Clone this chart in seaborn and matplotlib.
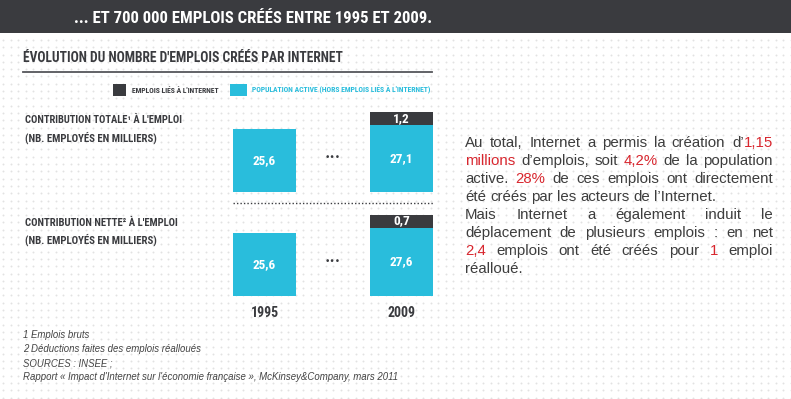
import numpy as np
import pandas as pd
import matplotlib
matplotlib.use("Agg")
import matplotlib.pyplot as plt
import seaborn as sns
from matplotlib import font_manager
from matplotlib.patches import Rectangle
from matplotlib.lines import Line2D

# ---------------- data ----------------
years = ["1995", "2009"]
spacer = " "
total_base = [25.6, 27.1]          # population active (hors emplois liés à l'internet)
total_internet = [None, 1.2]       # emplois liés à l'internet
net_base = [25.6, 27.6]
net_internet = [None, 0.7]

header_text = "... ET 700 000 EMPLOIS CRÉÉS ENTRE 1995 ET 2009."
title_text = "ÉVOLUTION DU NOMBRE D'EMPLOIS CRÉÉS PAR INTERNET"
legend_labels = ["EMPLOIS LIÉS À L'INTERNET",
                 "POPULATION ACTIVE (HORS EMPLOIS LIÉS À L'INTERNET)"]
panel_labels = ["CONTRIBUTION TOTALE¹ À L'EMPLOI", "CONTRIBUTION NETTE² À L'EMPLOI"]
panel_sub = "(NB. EMPLOYÉS EN MILLIERS)"
footnotes = ["1 Emplois bruts",
             "2 Déductions faites des emplois réalloués",
             "SOURCES : INSEE ;",
             "Rapport « Impact d'Internet sur l'économie française », McKinsey&Company, mars 2011"]
para_lines = ["Au total, Internet a permis la création d’{1,15}",
              "{millions} d’emplois, soit {4,2%} de la population",
              "active. {28%} de ces emplois ont directement",
              "été créés par les acteurs de l’Internet.",
              "Mais Internet a également induit le",
              "déplacement de plusieurs emplois : en net",
              "{2,4} emplois ont été créés pour {1} emploi",
              "réalloué."]
para_justify = [True, True, True, False, True, True, True, False]

# ---------------- style ----------------
DARK = "#3a3b3f"
CYAN = "#29bddc"
RED = "#d8262e"
INK = "#3d3d3d"
W, H = 791, 399

avail = {f.name for f in font_manager.fontManager.ttflist}
COND = "DejaVu Sans"
for cand in ["Liberation Sans Narrow", "Roboto Condensed", "Open Sans Condensed", "DejaVu Sans"]:
    if cand in avail:
        COND = cand
        break
BODY = "Liberation Sans" if "Liberation Sans" in avail else "DejaVu Sans"
CKW = dict(family=COND, fontweight="bold", fontstretch="condensed")

fig = plt.figure(figsize=(W / 100, H / 100), dpi=100)
fig.patch.set_facecolor("white")
renderer = fig.canvas.get_renderer()


def fx(x):
    return x / W


def fy(y):
    return 1 - y / H


def text_px(s, x, y, size, **kw):
    return fig.text(fx(x), fy(y), s, fontsize=size, **kw)


def wpx(t):
    return t.get_window_extent(renderer).width


def caps(s, x, y_center, target_w, max_size, ha="left", **kw):
    t = text_px(s, x, y_center, 10, ha=ha, va="baseline", **kw)
    size = min(max_size, 10 * target_w / wpx(t))
    t.set_fontsize(size)
    t.set_position((fx(x), fy(y_center + size * 0.5)))
    return t


# background dot grid
bg = fig.add_axes([0, 0, 1, 1], zorder=-10)
gx, gy = np.meshgrid(np.arange(3, W, 7.5), np.arange(40, H, 7.3))
bg.scatter(gx.ravel(), gy.ravel(), s=2.0, color="#e2e2e2", linewidths=0)
bg.set_xlim(0, W)
bg.set_ylim(H, 0)
bg.axis("off")

# header bar
fig.patches.append(Rectangle((0, fy(33)), 1, 33 / H, transform=fig.transFigure,
                             facecolor=DARK, edgecolor="none", zorder=1))
caps(header_text, 432, 17, 359, 17, ha="right", color="white", **CKW)

# title + rule
caps(title_text, 23, 57.5, 320, 13.5, color=DARK, **CKW)
fig.add_artist(Line2D([fx(23), fx(432)], [fy(72), fy(72)], transform=fig.transFigure,
                      color="#55565a", lw=1.3))

# legend
fig.patches.append(Rectangle((fx(113), fy(96)), 13 / W, 12 / H, transform=fig.transFigure,
                             facecolor=DARK, edgecolor="none"))
fig.patches.append(Rectangle((fx(230), fy(96)), 17 / W, 12 / H, transform=fig.transFigure,
                             facecolor=CYAN, edgecolor="none"))
caps(legend_labels[0], 132, 90, 88, 7, color=DARK, **CKW)
caps(legend_labels[1], 252, 90, 180, 7, color=CYAN, **CKW)

# panel labels
caps(panel_labels[0], 25, 119, 157, 9.5, color=DARK, **CKW)
caps(panel_sub, 25, 138, 132, 9.5, color=DARK, **CKW)
caps(panel_labels[1], 25, 222, 153, 9.5, color=DARK, **CKW)
caps(panel_sub, 25, 240, 132, 9.5, color=DARK, **CKW)

# ---------------- bars ----------------
order = [years[0], spacer, years[1]]
unit_px = 68.5
ax_h = 92
k = 2.48                  # px per thousand employees (display scale)
band = 13 / k             # height of the dark label band


def fmt(v):
    return f"{v:.1f}".replace(".", ",")


def panel(bottom_px, base, internet, show_years):
    left = 264.5 - 0.5 * unit_px
    ax = fig.add_axes([fx(left), fy(bottom_px), 3 * unit_px / W, ax_h / H])
    df = pd.DataFrame({"year": years, "value": base})
    sns.barplot(data=df, x="year", y="value", order=order, color=CYAN, saturation=1,
                width=0.92, errorbar=None, ax=ax)
    for yr, b, extra in zip(years, base, internet):
        pos = order.index(yr)
        ax.text(pos, b / 2, fmt(b), ha="center", va="center", color="white",
                fontsize=9.5, **CKW)
        if extra is not None:
            ax.bar(pos, band, bottom=b, width=0.92, color=DARK, linewidth=0)
            ax.text(pos, b + band / 2, fmt(extra), ha="center", va="center",
                    color="white", fontsize=9.5, **CKW)
    ax.text(order.index(spacer), base[0] / 2 + 1.2, "•••", ha="center", va="center",
            color=DARK, fontsize=6.5, family="DejaVu Sans")
    ax.set_xlim(-0.5, 2.5)
    ax.set_ylim(0, ax_h / k)
    ax.axis("off")
    if show_years:
        for yr in years:
            ax.text(order.index(yr), -17 / ax_h, yr, transform=ax.get_xaxis_transform(),
                    ha="center", va="center", color=DARK, fontsize=10, **CKW)
    return ax


panel(192, total_base, total_internet, False)
panel(296, net_base, net_internet, True)

fig.add_artist(Line2D([fx(233), fx(433)], [fy(202.5), fy(202.5)], transform=fig.transFigure,
                      color=DARK, lw=1.0, linestyle=(0, (1, 1.5))))

# ---------------- footnotes ----------------
t = text_px(footnotes[3], 23, 380, 10, va="baseline", family=BODY, style="italic", color="#444444")
fsize = 10 * 377 / wpx(t)
t.set_fontsize(fsize)
for i, s in enumerate(footnotes[:3]):
    text_px(s, 23, 338.5 + 14 * i, fsize, va="baseline", family=BODY, style="italic",
            color="#444444")

# ---------------- paragraph ----------------
def parse(line):
    words = []
    for w in line.split(" "):
        pieces = []
        buf, red = "", False
        for ch in w:
            if ch == "{":
                if buf:
                    pieces.append((buf, INK))
                buf, red = "", True
            elif ch == "}":
                pieces.append((buf, RED))
                buf, red = "", False
            else:
                buf += ch
        if buf:
            pieces.append((buf, RED if red else INK))
        words.append(pieces)
    return words


probe = text_px(para_lines[3], 0, 0, 10, va="baseline", family=BODY)
psize = 10 * 253 / wpx(probe)
probe.remove()

x0, x1 = 465, 773
base_y = 146.7
for li, (line, just) in enumerate(zip(para_lines, para_justify)):
    y = base_y + 18 * li
    words = parse(line)
    objs = []
    for pieces in words:
        wobjs = []
        for s, c in pieces:
            tt = text_px(s, 0, y, psize, va="baseline", family=BODY, color=c)
            wobjs.append((tt, wpx(tt)))
        objs.append(wobjs)
    widths = [sum(w for _, w in wo) for wo in objs]
    if just and len(objs) > 1:
        gap = (x1 - x0 - sum(widths)) / (len(objs) - 1)
    else:
        sp = text_px("a a", 0, 0, psize, family=BODY)
        sa = text_px("aa", 0, 0, psize, family=BODY)
        gap = wpx(sp) - wpx(sa)
        sp.remove()
        sa.remove()
    x = x0
    for wo, wd in zip(objs, widths):
        xx = x
        for tt, w in wo:
            tt.set_position((fx(xx), fy(y)))
            xx += w
        x += wd + gap

fig.savefig("out.png", dpi=100, facecolor="white")
